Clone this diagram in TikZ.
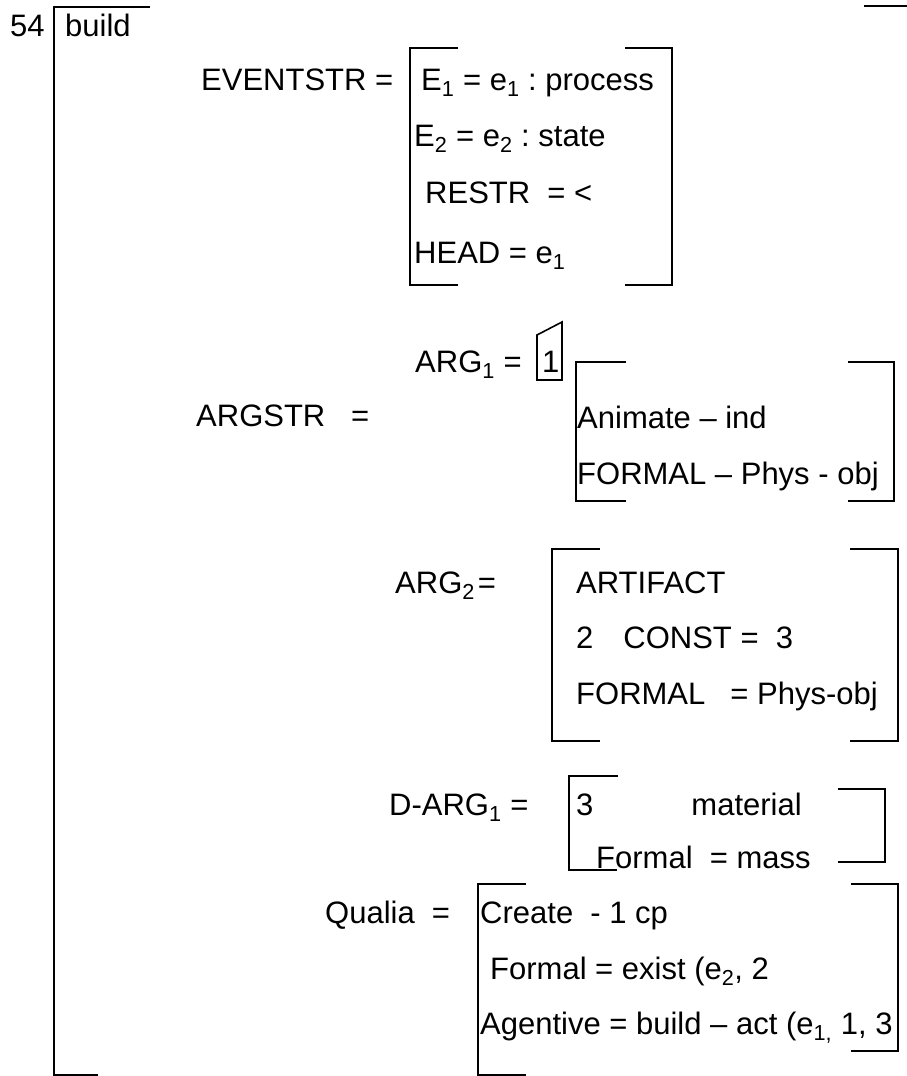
\documentclass[tikz,border=0pt]{standalone}
\usepackage{fontspec}
\setmainfont{Liberation Sans}
\usepackage{tikz}
\frenchspacing
\tikzset{
  % style for the entries of the feature structure
  entry/.style={
    anchor=base west,
    inner sep=0pt,
    font=\fontsize{31}{37}\selectfont
  },
  % style for the bracket lines
  brk/.style={draw=black,line width=1.6pt},
}

\begin{document}
\begin{tikzpicture}[x=1pt,y=-1pt]
    \useasboundingbox (0,0) rectangle (907,1076);
    \begin{scope}[every node/.style={entry}]
    \node (num) at (10,36) {54};
    \node (word) at (65,36) {build};

    \node (evstr) at (201,90) {EVENTSTR =};
    \node (ev1) at (421,90) {E\textsubscript{1} = e\textsubscript{1} : process};
    \node (ev2) at (414,146) {E\textsubscript{2} = e\textsubscript{2} : state};
    \node (restr) at (425,203) {RESTR\ \ = <};
    \node (hd) at (414,263) {HEAD = e\textsubscript{1}};

    \node (arg1) at (415,372) {ARG\textsubscript{1} =};
    \node (tag1) at (542,372) {1};
    \node (argstr) at (196,426) {ARGSTR\ \ \ =};
    \node (anim) at (577,428) {Animate -- ind};
    \node (form1) at (577,484) {FORMAL -- Phys - obj};

    \node (arg2) at (395,593) {ARG\textsubscript{2}\hspace{3pt}=};
    \node (artf) at (576,593) {ARTIFACT};
    \node (const) at (576,648) {2\hspace{30pt}CONST =\ \ 3};
    \node (form2) at (576,704) {FORMAL\hspace{25pt}= Phys-obj};

    \node (darg) at (389,815) {D-ARG\textsubscript{1} =};
    \node (mat) at (576,815) {3\hspace{98pt}material};
    \node (mass) at (596,868) {Formal\ \ = mass};

    \node (qual) at (325,923) {Qualia\ \ =};
    \node (crt) at (480,923) {Create\ \ - 1 cp};
    \node (fexist) at (490,979) {Formal = exist (e\textsubscript{2}, 2};
    \node (agent) at (480,1034) {Agentive = build -- act (e\textsubscript{1,} 1, 3};
    \end{scope}
    \begin{scope}[brk]
    % outer bracket
    \draw (150,7) -- (54,7) -- (54,1075) -- (98,1075);
    \draw (864,6) -- (907,6);
    % EVENTSTR
    \draw (458,48) -- (410,48) -- (410,285) -- (458,285);
    \draw (625,48) -- (672,48) -- (672,285) -- (625,285);
    % tag box
    \draw (537,335) -- (562,322) -- (562,380) -- (537,380) -- cycle;
    % ARG1
    \draw (626,362) -- (576,362) -- (576,501) -- (626,501);
    \draw (848,362) -- (894,362) -- (894,501) -- (848,501);
    % ARG2
    \draw (600,549) -- (552,549) -- (552,741) -- (600,741);
    \draw (850,549) -- (898,549) -- (898,741) -- (850,741);
    % D-ARG1
    \draw (618,776) -- (569,776) -- (569,870) -- (617,870);
    \draw (838,789) -- (885,789) -- (885,862) -- (838,862);
    % Qualia
    \draw (526,884) -- (478,884) -- (478,1075) -- (526,1075);
    \draw (851,884) -- (898,884) -- (898,1051) -- (851,1051);
    \end{scope}
\end{tikzpicture}
\end{document}
